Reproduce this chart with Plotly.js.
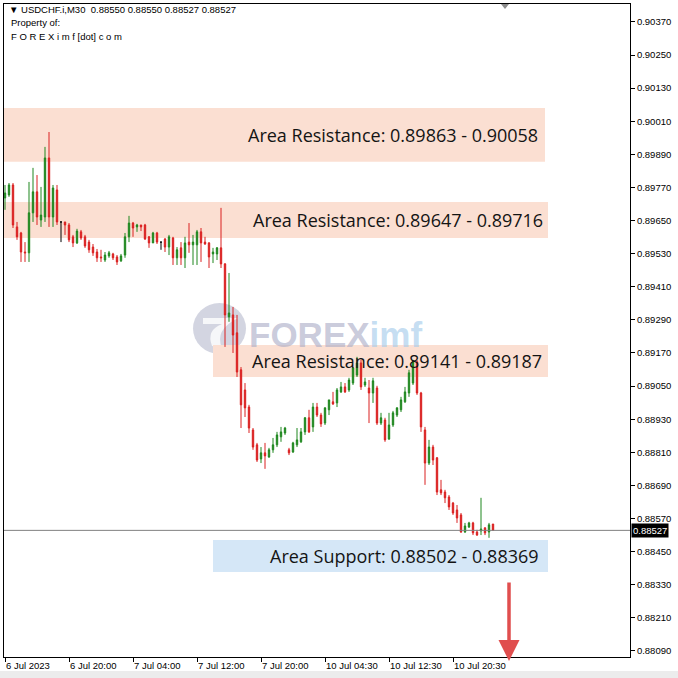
<!DOCTYPE html>
<html>
<head>
<meta charset="utf-8">
<script src="https://cdn.plot.ly/plotly-3.0.1.min.js"></script>
<style>html,body{margin:0;padding:0;background:#fff;}#chart{width:678px;height:678px;}</style>
</head>
<body>
<div id="chart"></div>
<script>
// ---- data (M30 bars, USDCHF.i) ----
const openP = [0.89732,0.89743,0.89779,0.89627,0.89605,0.89536,0.89533,0.89678,0.89754,0.89652,
0.89663,0.89877,0.89663,0.89761,0.89645,0.89645,0.89634,0.89591,0.89569,0.89609,
0.89591,0.89572,0.89554,0.89536,0.89518,0.89507,0.89522,0.89529,0.89518,0.89504,
0.89525,0.89591,0.89641,0.89627,0.89634,0.89634,0.89591,0.89569,0.89605,0.89572,
0.89583,0.89554,0.89587,0.89515,0.89551,0.89515,0.89572,0.89562,0.89562,0.89609,
0.89572,0.89569,0.89529,0.89529,0.89551,0.89493,0.89301,0.89308,0.89243,0.89109,
0.89036,0.88974,0.88891,0.88837,0.88786,0.88808,0.88793,0.88819,0.88837,0.88866,
0.88880,0.88819,0.88811,0.88837,0.88848,0.88884,0.88935,0.88902,0.88974,0.88945,
0.88916,0.88964,0.88993,0.88989,0.89029,0.89047,0.89036,0.89061,0.89090,0.89134,
0.89054,0.89043,0.89025,0.89043,0.88916,0.88927,0.88858,0.88909,0.88945,0.88964,
0.88993,0.89025,0.89061,0.89138,0.89025,0.88891,0.88771,0.88829,0.88790,0.88674,
0.88666,0.88648,0.88626,0.88601,0.88583,0.88521,0.88539,0.88554,0.88521,0.88525,
0.88536,0.88521,0.88550];
const highP = [0.89779,0.89786,0.89786,0.89645,0.89609,0.89572,0.89790,0.89841,0.89815,0.89772,
0.89917,0.89971,0.89779,0.89779,0.89645,0.89645,0.89641,0.89598,0.89620,0.89616,
0.89598,0.89580,0.89565,0.89547,0.89544,0.89536,0.89540,0.89533,0.89525,0.89529,
0.89605,0.89667,0.89645,0.89638,0.89634,0.89638,0.89594,0.89609,0.89609,0.89572,
0.89587,0.89598,0.89591,0.89554,0.89572,0.89591,0.89641,0.89598,0.89616,0.89623,
0.89591,0.89572,0.89551,0.89554,0.89696,0.89496,0.89460,0.89337,0.89308,0.89119,
0.89061,0.88982,0.88898,0.88844,0.88829,0.88844,0.88826,0.88862,0.88884,0.88902,
0.88902,0.88826,0.88848,0.88898,0.88898,0.88938,0.88964,0.88989,0.88989,0.88953,
0.88974,0.89000,0.89029,0.89043,0.89065,0.89061,0.89080,0.89119,0.89156,0.89145,
0.89080,0.89072,0.89080,0.89051,0.88953,0.88935,0.88953,0.88960,0.88974,0.89011,
0.89047,0.89109,0.89145,0.89145,0.89029,0.88902,0.88855,0.88837,0.88793,0.88710,
0.88674,0.88655,0.88630,0.88619,0.88590,0.88554,0.88558,0.88558,0.88529,0.88645,
0.88539,0.88554,0.88550];
const lowP = [0.89689,0.89736,0.89623,0.89580,0.89500,0.89500,0.89500,0.89645,0.89634,0.89627,
0.89645,0.89627,0.89627,0.89634,0.89572,0.89598,0.89572,0.89554,0.89565,0.89580,
0.89551,0.89533,0.89522,0.89500,0.89500,0.89500,0.89515,0.89507,0.89489,0.89500,
0.89515,0.89572,0.89591,0.89609,0.89612,0.89580,0.89551,0.89569,0.89565,0.89544,
0.89536,0.89525,0.89489,0.89489,0.89489,0.89478,0.89533,0.89489,0.89489,0.89500,
0.89562,0.89478,0.89496,0.89507,0.89478,0.89192,0.89283,0.89170,0.89083,0.88898,
0.88938,0.88880,0.88819,0.88775,0.88771,0.88750,0.88790,0.88808,0.88829,0.88848,
0.88873,0.88800,0.88808,0.88829,0.88844,0.88873,0.88880,0.88884,0.88938,0.88902,
0.88909,0.88945,0.88982,0.88974,0.89025,0.89025,0.89029,0.89054,0.89083,0.89036,
0.89047,0.88916,0.88989,0.88909,0.88909,0.88848,0.88855,0.88902,0.88938,0.88956,
0.88989,0.89011,0.89054,0.89018,0.88884,0.88692,0.88764,0.88764,0.88655,0.88655,
0.88626,0.88601,0.88583,0.88554,0.88518,0.88518,0.88536,0.88510,0.88507,0.88510,
0.88510,0.88500,0.88527];
const closeP = [0.89750,0.89779,0.89634,0.89591,0.89536,0.89533,0.89678,0.89754,0.89663,0.89670,
0.89877,0.89663,0.89768,0.89645,0.89645,0.89634,0.89580,0.89569,0.89612,0.89587,
0.89558,0.89544,0.89533,0.89515,0.89515,0.89525,0.89533,0.89515,0.89500,0.89522,
0.89591,0.89641,0.89623,0.89634,0.89627,0.89583,0.89569,0.89605,0.89572,0.89572,
0.89554,0.89591,0.89515,0.89544,0.89515,0.89569,0.89562,0.89572,0.89609,0.89569,
0.89565,0.89518,0.89536,0.89551,0.89493,0.89308,0.89315,0.89235,0.89101,0.88982,
0.88971,0.88898,0.88829,0.88782,0.88808,0.88797,0.88819,0.88837,0.88873,0.88884,
0.88898,0.88808,0.88844,0.88855,0.88884,0.88935,0.88884,0.88974,0.88945,0.88913,
0.88971,0.89000,0.88985,0.89036,0.89047,0.89029,0.89072,0.89116,0.89134,0.89047,
0.89065,0.89025,0.89069,0.88916,0.88935,0.88855,0.88909,0.88953,0.88971,0.89000,
0.89029,0.89098,0.89138,0.89025,0.88902,0.88771,0.88829,0.88782,0.88666,0.88663,
0.88645,0.88612,0.88590,0.88572,0.88521,0.88543,0.88554,0.88518,0.88510,0.88532,
0.88518,0.88547,0.88527];

const xTickBars = [0,16,32,48,64,80,96,112];
const xTickLabels = ["6 Jul 2023","6 Jul 20:00","7 Jul 04:00","7 Jul 12:00","7 Jul 20:00","10 Jul 04:30","10 Jul 12:30","10 Jul 20:30"];
const yTickVals = [0.88090,0.88210,0.88330,0.88450,0.88570,0.88690,0.88810,0.88930,0.89050,0.89170,0.89290,0.89410,0.89530,0.89650,0.89770,0.89890,0.90010,0.90130,0.90250,0.90370];

const zoneLabels = ["Area Resistance: 0.89863 - 0.90058","Area Resistance: 0.89647 - 0.89716","Area Resistance: 0.89141 - 0.89187","Area Support: 0.88502 - 0.88369"];
const zoneLow  = [0.89863,0.89587,0.89083,0.88376];
const zoneHigh = [0.90058,0.89717,0.89199,0.88492];
const symbol = "USDCHF.i,M30";

// ---- build ----
const n = openP.length;
const idx = Array.from({length:n},(_,i)=>i);
const isDoji = idx.map(i=>openP[i]===closeP[i]);
function pick(arr, cond){ return idx.filter(i=>cond(i)).map(i=>arr[i]); }
const nonDoji = i=>!isDoji[i];
const doji = i=>isDoji[i];

const GREEN = 'rgb(30,135,30)';
const RED = 'rgb(218,32,32)';

const traces = [
 {type:'candlestick', x:pick(idx,nonDoji), open:pick(openP,nonDoji), high:pick(highP,nonDoji), low:pick(lowP,nonDoji), close:pick(closeP,nonDoji),
  increasing:{line:{color:GREEN,width:1},fillcolor:GREEN},
  decreasing:{line:{color:RED,width:1},fillcolor:RED},
  whiskerwidth:0, hoverinfo:'skip', showlegend:false},
 {type:'candlestick', x:pick(idx,doji), open:pick(openP,doji), high:pick(highP,doji), low:pick(lowP,doji), close:pick(closeP,doji),
  increasing:{line:{color:'#000',width:1},fillcolor:'#000'},
  decreasing:{line:{color:'#000',width:1},fillcolor:'#000'},
  whiskerwidth:0, hoverinfo:'skip', showlegend:false}
];

const last = n-1;
const fmt = v=>v.toFixed(5);

const zoneColors = ['rgb(251,223,210)','rgb(251,223,210)','rgb(251,223,210)','rgb(213,231,247)'];
const zoneX0 = [-0.25,-0.25,52,52];
const zoneX1 = [135,135.75,135.75,135.75];
const labelX = [133.8,135,134.8,134];

const px = v=>(v-4)/626;        // pixel x -> paper
const py = v=>(657-v)/653;      // pixel y -> paper

const shapes = [];
zoneLabels.forEach((t,i)=>{
  shapes.push({type:'rect', xref:'x', yref:'y', x0:zoneX0[i], x1:zoneX1[i], y0:zoneLow[i], y1:zoneHigh[i],
    fillcolor:zoneColors[i], line:{width:0}, layer:'below'});
});
// watermark logo circle
shapes.push({type:'circle', xref:'paper', yref:'paper', x0:px(193), x1:px(246), y0:py(354), y1:py(303),
  fillcolor:'rgba(175,178,200,0.55)', line:{width:0}, layer:'below'});
// white swoosh inside the logo
shapes.push({type:'path', xref:'paper', yref:'paper',
  path:`M ${px(203)} ${py(318)} L ${px(238)} ${py(318)} Q ${px(214)} ${py(330)} ${px(222)} ${py(348)} L ${px(212)} ${py(346)} Q ${px(206)} ${py(330)} ${px(222)} ${py(324)} L ${px(203)} ${py(324)} Z`,
  fillcolor:'rgba(255,255,255,0.8)', line:{width:0}, layer:'below'});
// current price line
shapes.push({type:'line', xref:'paper', yref:'y', x0:0, x1:1, y0:closeP[last], y1:closeP[last], line:{color:'rgb(128,128,128)', width:1}});
// bottom window strip
shapes.push({type:'rect', xref:'paper', yref:'paper', x0:-0.01, x1:1.1, y0:py(679), y1:py(671), fillcolor:'rgb(236,236,236)', line:{width:0}});
// chart shift marker
shapes.push({type:'path', xref:'paper', yref:'paper', path:`M ${px(501)} ${py(4)} L ${px(509)} ${py(4)} L ${px(505)} ${py(9)} Z`,
  fillcolor:'rgb(140,140,140)', line:{width:0}});

const annotations = [];
zoneLabels.forEach((t,i)=>{
  annotations.push({xref:'x', yref:'y', x:labelX[i], y:(zoneLow[i]+zoneHigh[i])/2, xanchor:'right', yanchor:'middle',
    text:t, showarrow:false, font:{family:'Open Sans, sans-serif', size:18, color:'#141414'}});
});
annotations.push({xref:'paper', yref:'paper', x:px(247), y:py(334), xanchor:'left', yanchor:'middle', showarrow:false,
  text:"<b><span style='color:rgba(172,174,200,0.65)'>FOREX</span><span style='color:rgba(165,203,235,0.65)'>imf</span></b>",
  font:{family:'Liberation Sans, Arial, sans-serif', size:35}});
// header
const hdrFont = {family:'Liberation Sans, Arial, sans-serif', size:9.5, color:'#000'};
annotations.push({xref:'paper', yref:'paper', x:0, y:1, xanchor:'left', yanchor:'middle', xshift:3, yshift:-5, showarrow:false,
  text:'▼ '+symbol+'  '+fmt(openP[last])+' '+fmt(highP[last])+' '+fmt(lowP[last])+' '+fmt(closeP[last]), font:hdrFont});
annotations.push({xref:'paper', yref:'paper', x:0, y:1, xanchor:'left', yanchor:'middle', xshift:5, yshift:-18, showarrow:false,
  text:'Property of:', font:hdrFont});
annotations.push({xref:'paper', yref:'paper', x:0, y:1, xanchor:'left', yanchor:'middle', xshift:5, yshift:-32, showarrow:false,
  text:'F O R E X i m f [dot] c o m', font:hdrFont});
// current price box
annotations.push({xref:'paper', yref:'y', x:1, y:closeP[last], xanchor:'left', yanchor:'middle', xshift:1, showarrow:false,
  text:fmt(closeP[last]), bgcolor:'#000', borderpad:1, font:{family:'Liberation Sans, Arial, sans-serif', size:9.5, color:'#fff'}});
// red arrow
annotations.push({xref:'x', yref:'paper', x:126, y:py(661), ax:0, ay:-80, showarrow:true,
  arrowhead:2, arrowsize:1.2, arrowwidth:3.5, arrowcolor:'rgb(224,78,78)', text:''});

const layout = {
  width:678, height:678,
  margin:{l:4, r:48, t:4, b:21, pad:0},
  paper_bgcolor:'#fff', plot_bgcolor:'#fff',
  showlegend:false, boxgap:0.5,
  xaxis:{type:'linear', range:[-0.25,156.25], tickmode:'array', tickvals:xTickBars, ticktext:xTickLabels,
    ticks:'outside', ticklen:4, tickcolor:'#000', showline:true, linecolor:'#000', linewidth:1, mirror:true,
    showgrid:false, zeroline:false, rangeslider:{visible:false}, ticklabelposition:'outside right',
    tickfont:{family:'Liberation Sans, Arial, sans-serif', size:9.5, color:'#000'}, fixedrange:true},
  yaxis:{side:'right', range:[0.88068,0.90435], tickmode:'array', tickvals:yTickVals, tickformat:'.5f',
    ticks:'outside', ticklen:4, tickcolor:'#000', showline:true, linecolor:'#000', linewidth:1, mirror:true,
    showgrid:false, zeroline:false, tickfont:{family:'Liberation Sans, Arial, sans-serif', size:9.5, color:'#000'}, fixedrange:true},
  shapes:shapes, annotations:annotations
};
Plotly.newPlot('chart', traces, layout, {staticPlot:true, displayModeBar:false});
</script>
</body>
</html>
